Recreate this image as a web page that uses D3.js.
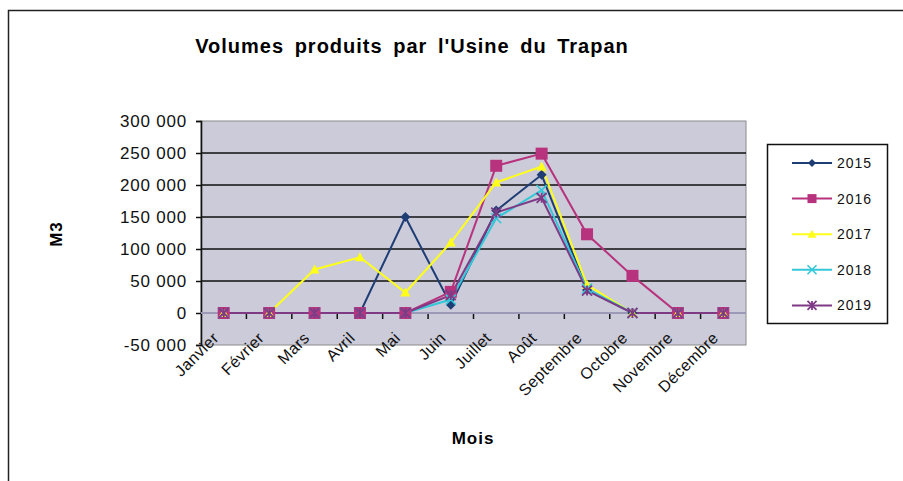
<!DOCTYPE html>
<html>
  <head>
    <script src="https://d3js.org/d3.v7.min.js"></script>
    <style>
      body {
        margin: 0;
        background: #ffffff;
        font-family: "Liberation Sans", Arial, sans-serif;
      }
    </style>
  </head>
  <body>
    <div id="chartContainer"></div>
  </body>

  <script type="text/javascript">
    const months = [
      "Janvier", "Février", "Mars", "Avril", "Mai", "Juin",
      "Juillet", "Août", "Septembre", "Octobre", "Novembre", "Décembre",
    ];
    const years = ["2015", "2016", "2017", "2018", "2019"];
    const vol2015 = [0, 0, 0, 0, 150000, 13000, 160000, 216000, 36000, 0, 0, 0];
    const vol2016 = [0, 0, 0, 0, 0, 33000, 230000, 249000, 123000, 58000, 0, 0];
    const vol2017 = [0, 0, 68000, 87000, 32000, 110000, 204000, 229000, 44000, 0, 0, 0];
    const vol2018 = [0, 0, 0, 0, 0, 21000, 148000, 192000, 38000, 0, 0, 0];
    const vol2019 = [0, 0, 0, 0, 0, 28000, 157000, 180000, 35000, 0, 0, 0];
    const yTicks = [-50000, 0, 50000, 100000, 150000, 200000, 250000, 300000];

    const seriesList = [
      { name: years[0], values: vol2015, color: "#1f3d75", marker: "diamond" },
      { name: years[1], values: vol2016, color: "#b8337e", marker: "square" },
      { name: years[2], values: vol2017, color: "#ffff1a", marker: "triangle" },
      { name: years[3], values: vol2018, color: "#33c8d8", marker: "x" },
      { name: years[4], values: vol2019, color: "#7f3a86", marker: "star" },
    ];

    const width = 903,
      height = 481;
    const plot = { left: 201, top: 121, right: 746, bottom: 345 };

    const svg = d3
      .select("#chartContainer")
      .append("svg")
      .attr("width", width)
      .attr("height", height);

    // outer frame (right and bottom edges fall outside the picture)
    svg
      .append("rect")
      .attr("x", 8.5)
      .attr("y", 10.5)
      .attr("width", 1000)
      .attr("height", 600)
      .attr("fill", "none")
      .attr("stroke", "#222")
      .attr("stroke-width", 1.5);

    svg
      .append("text")
      .attr("x", 412)
      .attr("y", 53)
      .attr("text-anchor", "middle")
      .style("font-size", "20px")
      .style("font-weight", "bold")
      .style("letter-spacing", "1px")
      .style("word-spacing", "4px")
      .text("Volumes produits par l'Usine du Trapan");

    const x = d3
      .scaleBand()
      .domain(months)
      .range([plot.left, plot.right]);
    const y = d3
      .scaleLinear()
      .domain([-50000, 300000])
      .range([plot.bottom, plot.top]);

    // plot background
    svg
      .append("rect")
      .attr("x", plot.left)
      .attr("y", plot.top)
      .attr("width", plot.right - plot.left)
      .attr("height", plot.bottom - plot.top)
      .attr("fill", "#cbcbd9")
      .attr("stroke", "#8a8a8a")
      .attr("stroke-width", 1);

    // gridlines
    svg
      .append("g")
      .selectAll("line")
      .data(yTicks.filter((t) => t > 0 && t < 300000))
      .enter()
      .append("line")
      .attr("x1", plot.left)
      .attr("x2", plot.right)
      .attr("y1", (d) => y(d))
      .attr("y2", (d) => y(d))
      .attr("stroke", "#111")
      .attr("stroke-width", 1.6);

    // y axis
    const fmt = (d) => d3.format(",")(d).replace(/,/g, " ").replace("−", "-");
    const yAxis = svg
      .append("g")
      .attr("transform", `translate(${plot.left},0)`)
      .call(d3.axisLeft(y).tickValues(yTicks).tickFormat(fmt).tickSizeOuter(0).tickSize(5).tickPadding(9));
    yAxis.select(".domain").attr("stroke", "#111").attr("stroke-width", 1.6);
    yAxis.selectAll(".tick line").attr("stroke", "#111").attr("stroke-width", 1.5);
    yAxis
      .selectAll("text")
      .style("font-size", "17px")
      .style("letter-spacing", "0.8px")
      .style("font-family", "'Liberation Sans', Arial, sans-serif")
      .attr("fill", "#111");

    // x axis at zero
    const xAxis = svg
      .append("g")
      .attr("transform", `translate(0,${y(0)})`);
    xAxis
      .append("line")
      .attr("x1", plot.left)
      .attr("x2", plot.right)
      .attr("stroke", "#9a9ab8")
      .attr("stroke-width", 2);
    xAxis
      .selectAll("line.tk")
      .data(months.slice(1))
      .enter()
      .append("line")
      .attr("class", "tk")
      .attr("x1", (d) => x(d))
      .attr("x2", (d) => x(d))
      .attr("y1", 1)
      .attr("y2", 6)
      .attr("stroke", "#111")
      .attr("stroke-width", 1.5);

    // category labels
    svg
      .append("g")
      .selectAll("text")
      .data(months)
      .enter()
      .append("text")
      .attr(
        "transform",
        (d) => `translate(${x(d) + x.bandwidth() / 2 - 4},${y(0) + 26}) rotate(-45)`
      )
      .attr("text-anchor", "end")
      .style("font-size", "16px")
      .style("letter-spacing", "0.4px")
      .attr("fill", "#111")
      .text((d) => d);

    svg
      .append("text")
      .attr("x", 473)
      .attr("y", 444)
      .attr("text-anchor", "middle")
      .style("font-size", "17px")
      .style("font-weight", "bold")
      .style("letter-spacing", "1px")
      .text("Mois");

    svg
      .append("text")
      .attr("transform", "translate(62,234) rotate(-90)")
      .attr("text-anchor", "middle")
      .style("font-size", "17px")
      .style("font-weight", "bold")
      .style("letter-spacing", "1px")
      .text("M3");

    function drawMarker(g, type, color, size) {
      const s = size;
      if (type === "diamond") {
        g.append("path")
          .attr("d", `M0,${-s}L${s},0L0,${s}L${-s},0Z`)
          .attr("fill", color);
      } else if (type === "square") {
        g.append("rect")
          .attr("x", -s)
          .attr("y", -s)
          .attr("width", 2 * s)
          .attr("height", 2 * s)
          .attr("fill", color);
      } else if (type === "triangle") {
        g.append("path")
          .attr("d", `M0,${-s}L${s},${s * 0.8}L${-s},${s * 0.8}Z`)
          .attr("fill", color);
      } else if (type === "x") {
        g.append("path")
          .attr("d", `M${-s},${-s}L${s},${s}M${-s},${s}L${s},${-s}`)
          .attr("stroke", color)
          .attr("stroke-width", 1.6);
      } else {
        g.append("path")
          .attr("d", `M${-s},${-s}L${s},${s}M${-s},${s}L${s},${-s}M0,${-s}L0,${s}`)
          .attr("stroke", color)
          .attr("stroke-width", 1.8);
      }
    }

    const line = d3
      .line()
      .x((d, i) => x(months[i]) + x.bandwidth() / 2)
      .y((d) => y(d));

    seriesList.forEach(function (s) {
      svg
        .append("path")
        .datum(s.values)
        .attr("d", line)
        .attr("fill", "none")
        .attr("stroke", s.color)
        .attr("stroke-width", 2);
    });

    seriesList.forEach(function (s) {
      s.values.forEach(function (v, i) {
        const g = svg
          .append("g")
          .attr("transform", `translate(${x(months[i]) + x.bandwidth() / 2},${y(v)})`);
        drawMarker(g, s.marker, s.color, s.marker === "square" ? 6 : 5);
      });
    });

    // legend
    const legend = svg.append("g");
    legend
      .append("rect")
      .attr("x", 767.5)
      .attr("y", 144.5)
      .attr("width", 120)
      .attr("height", 179)
      .attr("fill", "#fff")
      .attr("stroke", "#111")
      .attr("stroke-width", 1.5);

    seriesList.forEach(function (s, i) {
      const ly = 163 + i * 35.6;
      legend
        .append("line")
        .attr("x1", 792)
        .attr("x2", 832)
        .attr("y1", ly)
        .attr("y2", ly)
        .attr("stroke", s.color)
        .attr("stroke-width", 2);
      const g = legend.append("g").attr("transform", `translate(812,${ly})`);
      drawMarker(g, s.marker, s.color, s.marker === "diamond" ? 4 : 4.5);
      legend
        .append("text")
        .attr("x", 837)
        .attr("y", ly + 5)
        .style("font-size", "14px")
        .style("letter-spacing", "1px")
        .attr("fill", "#111")
        .text(s.name);
    });
  </script>
</html>
